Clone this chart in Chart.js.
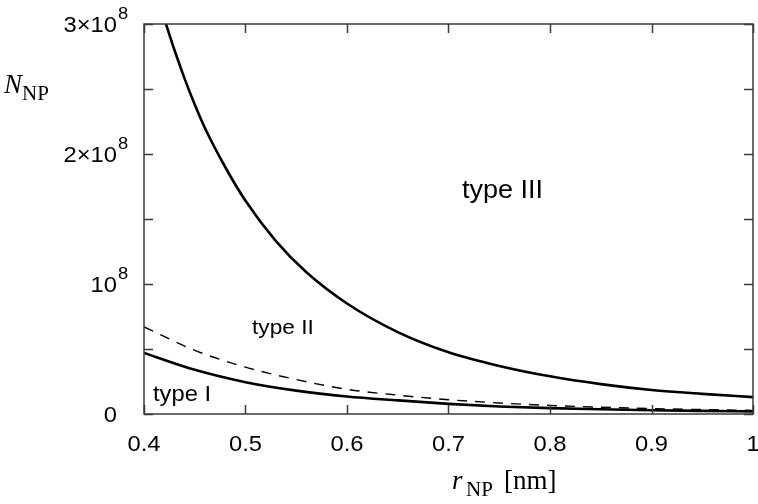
<!DOCTYPE html>
<html>
<head>
<meta charset="utf-8">
<script src="https://cdn.jsdelivr.net/npm/chart.js@4.4.1/dist/chart.umd.min.js"></script>
<style>
  html, body { margin: 0; padding: 0; background: #fff; }
  #wrap { width: 758px; height: 504px; }
</style>
</head>
<body>
<div id="wrap"><canvas id="nChart" width="758" height="504"></canvas></div>
<script>
// radius values [nm] and number of NPs (in units of 1e8)
var rIII = [0.42, 0.43, 0.44, 0.45, 0.46, 0.48, 0.50, 0.53, 0.56, 0.60, 0.65, 0.70, 0.75, 0.80, 0.85, 0.90, 0.95, 1.00];
var nIII = [3.04, 2.80, 2.58, 2.38, 2.20, 1.90, 1.64, 1.33, 1.09, 0.85, 0.63, 0.475, 0.37, 0.29, 0.23, 0.185, 0.155, 0.13];

var rLow = [0.40, 0.45, 0.50, 0.55, 0.60, 0.65, 0.70, 0.75, 0.80, 0.85, 0.90, 0.95, 1.00];
var nII  = [0.67, 0.49, 0.36, 0.265, 0.19, 0.145, 0.11, 0.085, 0.066, 0.052, 0.042, 0.034, 0.028]; // dashed
var nI   = [0.47, 0.34, 0.245, 0.18, 0.135, 0.105, 0.078, 0.058, 0.045, 0.036, 0.029, 0.024, 0.02];

var xTicks = [0.4, 0.5, 0.6, 0.7, 0.8, 0.9, 1.0];
var xTickLabels = ['0.4', '0.5', '0.6', '0.7', '0.8', '0.9', '1'];
var yTicks = [0, 0.5e8, 1e8, 1.5e8, 2e8, 2.5e8, 3e8];
var yTickLabels = ['0', '', '10^8', '', '2×10^8', '', '3×10^8'];

function toPoints(xs, ys) {
    return xs.map(function(x, i) { return { x: x, y: ys[i] * 1e8 }; });
}

var sans = '"Liberation Sans", Arial, sans-serif';
var serif = '"Liberation Serif", "Times New Roman", serif';

// frame, inward ticks and all the texts
var framePlugin = {
    id: 'frame',
    afterDraw: function(chart) {
        var ctx = chart.ctx;
        var a = chart.chartArea;
        var xs = chart.scales.x, ys = chart.scales.y;
        var tl = 9;
        ctx.save();
        ctx.strokeStyle = '#3a3a3a';
        ctx.lineWidth = 1.5;
        ctx.strokeRect(a.left, a.top, a.right - a.left, a.bottom - a.top);
        ctx.beginPath();
        xTicks.forEach(function(v) {
            var px = Math.round(xs.getPixelForValue(v)) + 0.5;
            ctx.moveTo(px, a.bottom); ctx.lineTo(px, a.bottom - tl);
            ctx.moveTo(px, a.top); ctx.lineTo(px, a.top + tl);
        });
        yTicks.forEach(function(v) {
            var py = Math.round(ys.getPixelForValue(v)) + 0.5;
            ctx.moveTo(a.left, py); ctx.lineTo(a.left + tl, py);
            ctx.moveTo(a.right, py); ctx.lineTo(a.right - tl, py);
        });
        ctx.stroke();

        ctx.fillStyle = '#000';
        // x tick labels
        ctx.font = '22px ' + sans;
        ctx.textAlign = 'center';
        ctx.textBaseline = 'alphabetic';
        xTicks.forEach(function(v, i) {
            var px = xs.getPixelForValue(v);
            ctx.save();
            ctx.translate(px, 451);
            ctx.scale(1.08, 1);
            ctx.fillText(xTickLabels[i], 0, 0);
            ctx.restore();
        });
        // y tick labels, with superscript exponent
        yTicks.forEach(function(v, i) {
            var lab = yTickLabels[i];
            if (!lab) return;
            var py = ys.getPixelForValue(v);
            var parts = lab.split('^');
            ctx.save();
            ctx.translate(117, py + 8);
            ctx.scale(1.08, 1);
            ctx.textAlign = 'right';
            ctx.font = '22px ' + sans;
            ctx.fillText(parts[0], 0, 0);
            if (parts[1]) {
                ctx.textAlign = 'left';
                ctx.font = '17px ' + sans;
                ctx.fillText(parts[1], 1, -13);
            }
            ctx.restore();
        });

        // region labels
        ctx.textAlign = 'left';
        var regions = [['type III', 462, 198, 25], ['type II', 252, 334, 21], ['type I', 153, 401, 22]];
        regions.forEach(function(r) {
            ctx.save();
            ctx.translate(r[1], r[2]);
            ctx.scale(1.08, 1);
            ctx.font = r[3] + 'px ' + sans;
            ctx.fillText(r[0], 0, 0);
            ctx.restore();
        });

        // y axis title N_NP
        ctx.font = 'italic 27px ' + serif;
        ctx.fillText('N', 4, 93);
        ctx.font = '21px ' + serif;
        ctx.fillText('NP', 22, 100);

        // x axis title r_NP [nm]
        ctx.font = 'italic 27px ' + serif;
        ctx.fillText('r', 452, 489);
        ctx.font = '21px ' + serif;
        ctx.fillText('NP', 466, 496);
        ctx.font = '27px ' + serif;
        ctx.fillText('[nm]', 504, 489);
        ctx.restore();
    }
};

var ctx = document.getElementById('nChart').getContext('2d');
var nChart = new Chart(ctx, {
    type: 'scatter',
    data: {
        datasets: [
            {
                label: 'type III boundary',
                data: toPoints(rIII, nIII),
                showLine: true,
                borderColor: '#000',
                borderWidth: 2.6,
                pointRadius: 0,
                cubicInterpolationMode: 'monotone',
                clip: 0
            },
            {
                label: 'type II boundary',
                data: toPoints(rLow, nII),
                showLine: true,
                borderColor: '#000',
                borderWidth: 1.4,
                borderDash: [10, 8],
                pointRadius: 0,
                cubicInterpolationMode: 'monotone',
                clip: 0
            },
            {
                label: 'type I boundary',
                data: toPoints(rLow, nI),
                showLine: true,
                borderColor: '#000',
                borderWidth: 2.6,
                pointRadius: 0,
                cubicInterpolationMode: 'monotone',
                clip: 0
            }
        ]
    },
    options: {
        responsive: false,
        animation: false,
        devicePixelRatio: 1,
        layout: {
            padding: { left: 144, right: 5, top: 24, bottom: 90 }
        },
        plugins: {
            legend: { display: false },
            tooltip: { enabled: false }
        },
        scales: {
            x: { type: 'linear', min: 0.4, max: 1.0, display: false },
            y: { type: 'linear', min: 0, max: 3e8, display: false }
        }
    },
    plugins: [framePlugin]
});
</script>
</body>
</html>
